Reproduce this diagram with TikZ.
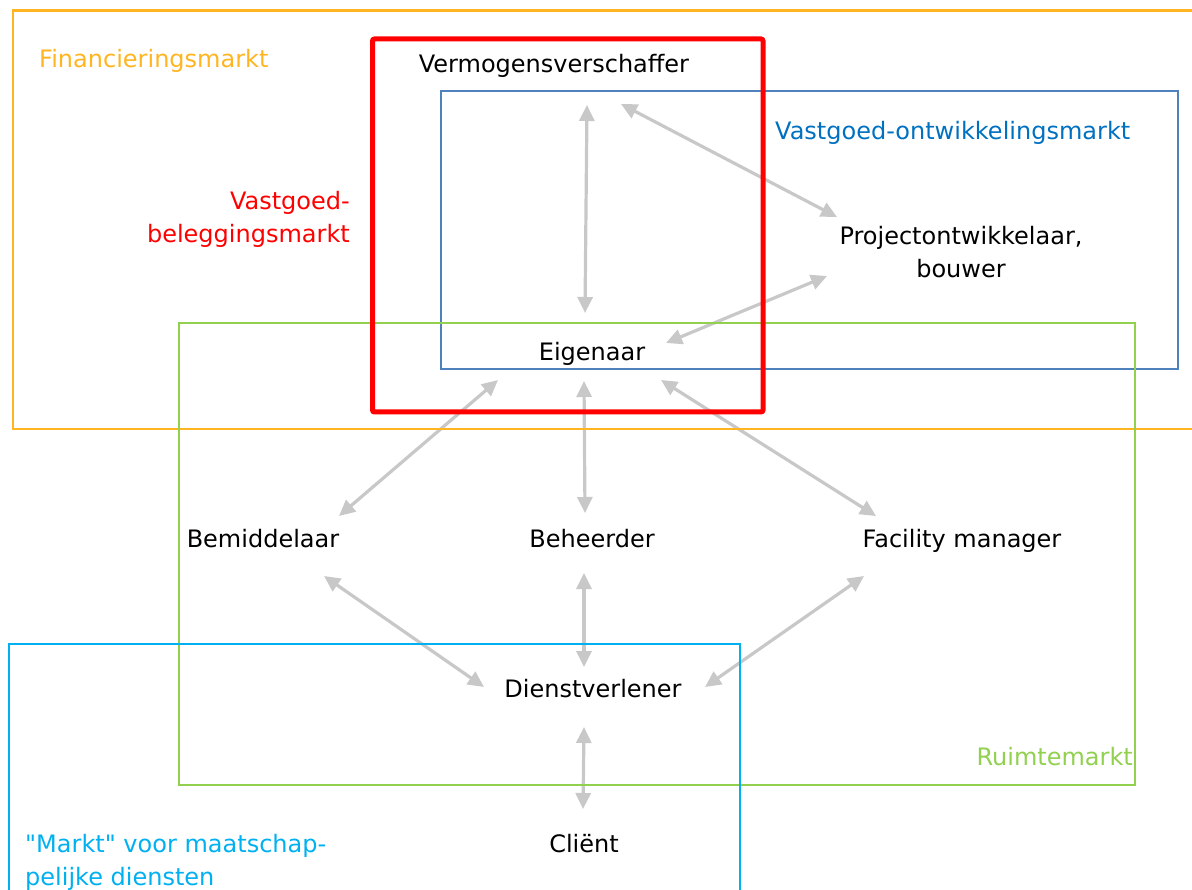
\documentclass[tikz,border=0pt]{standalone}
\usepackage{fontspec}
\setmainfont{DejaVu Sans}
% same face without the TeX quote mapping, for straight double quotes
\newfontfamily\straightquotes{DejaVu Sans}
\usetikzlibrary{arrows.meta}

\definecolor{finorange}{HTML}{FFB521}
\definecolor{devblue}{HTML}{4F81BD}
\definecolor{devtext}{HTML}{0070C0}
\definecolor{spacegreen}{HTML}{92D050}
\definecolor{socialcyan}{HTML}{00B0F0}
\definecolor{linkgray}{HTML}{C8C8C8}

\tikzset{
  market/.style={line width=2.6pt},
  link/.style={linkgray, line width=3.2pt,
    {Triangle[length=16pt,width=15pt]}-{Triangle[length=16pt,width=15pt]}},
  actor/.style={inner sep=0pt, text=black},
  label/.style={inner sep=0pt},
}

\begin{document}
\begin{tikzpicture}[x=1pt, y=-1pt, font=\fontsize{24pt}{33pt}\selectfont]
\useasboundingbox (0,0) rectangle (1192,890);

% actors (base anchor of a two-line node sits on its last line)
\node[actor, anchor=base] (ver) at (554,73) {Vermogensverschaffer};
\node[actor, anchor=base, align=center] (pro) at (961,278) {Projectontwikkelaar,\\bouwer};
\node[actor, anchor=base] (eig) at (592,361) {Eigenaar};
\node[actor, anchor=base] (bem) at (263,547) {Bemiddelaar};
\node[actor, anchor=base] (beh) at (592,547) {Beheerder};
\node[actor, anchor=base] (fac) at (962,547) {Facility manager};
\node[actor, anchor=base] (die) at (593,697) {Dienstverlener};
\node[actor, anchor=base] (cli) at (584,852) {Cliënt};

% connector end points
\coordinate (ver-s)  at (587,105);
\coordinate (ver-se) at (621,104);
\coordinate (pro-nw) at (837,217);
\coordinate (pro-sw) at (827,276);
\coordinate (eig-n)  at (585,313);
\coordinate (eig-ne) at (666,343);
\coordinate (eig-sw) at (498,380);
\coordinate (eig-s)  at (584,381);
\coordinate (eig-se) at (661,380);
\coordinate (bem-ne) at (339,516);
\coordinate (beh-n)  at (585,513);
\coordinate (fac-nw) at (876,516);
\coordinate (bem-se) at (324,576);
\coordinate (beh-s)  at (584,573);
\coordinate (fac-sw) at (864,576);
\coordinate (die-nw) at (484,687);
\coordinate (die-n)  at (584,667);
\coordinate (die-ne) at (705,687);
\coordinate (die-s)  at (584,727);
\coordinate (cli-n)  at (583,809);

% relations
\draw[link] (ver-s) -- (eig-n);
\draw[link] (ver-se) -- (pro-nw);
\draw[link] (pro-sw) -- (eig-ne);
\draw[link] (eig-sw) -- (bem-ne);
\draw[link] (eig-s) -- (beh-n);
\draw[link] (eig-se) -- (fac-nw);
\draw[link] (bem-se) -- (die-nw);
\draw[link] (beh-s) -- (die-n);
\draw[link] (fac-sw) -- (die-ne);
\draw[link] (die-s) -- (cli-n);

% market boundaries
\draw[market, finorange] (1205,10.5) -- (13,10.5) -- (13,429) -- (1205,429);
\draw[market, devblue] (441,91) rectangle (1178,369);
\draw[market, spacegreen] (179,323) rectangle (1135,785);
\draw[market, socialcyan] (9,905) -- (9,644) -- (740,644) -- (740,905);
\draw[line width=5pt, red, rounded corners=2pt] (372.5,39) rectangle (763,412);

% market names
\node[label, anchor=base west, text=finorange] (fin) at (39,68) {Financieringsmarkt};
\node[label, anchor=base east, align=right, text=red] (bel) at (350,243) {Vastgoed-\\beleggingsmarkt};
\node[label, anchor=base west, text=devtext] (ont) at (775,140) {Vastgoed-ontwikkelingsmarkt};
\node[label, anchor=base east, text=spacegreen] (rui) at (1133,765) {Ruimtemarkt};
\node[label, anchor=base west, align=left, text=socialcyan,
      font=\fontsize{24pt}{33pt}\straightquotes] (maa) at (25,885)
      {"Markt" voor maatschap-\\pelijke diensten};
\end{tikzpicture}
\end{document}
